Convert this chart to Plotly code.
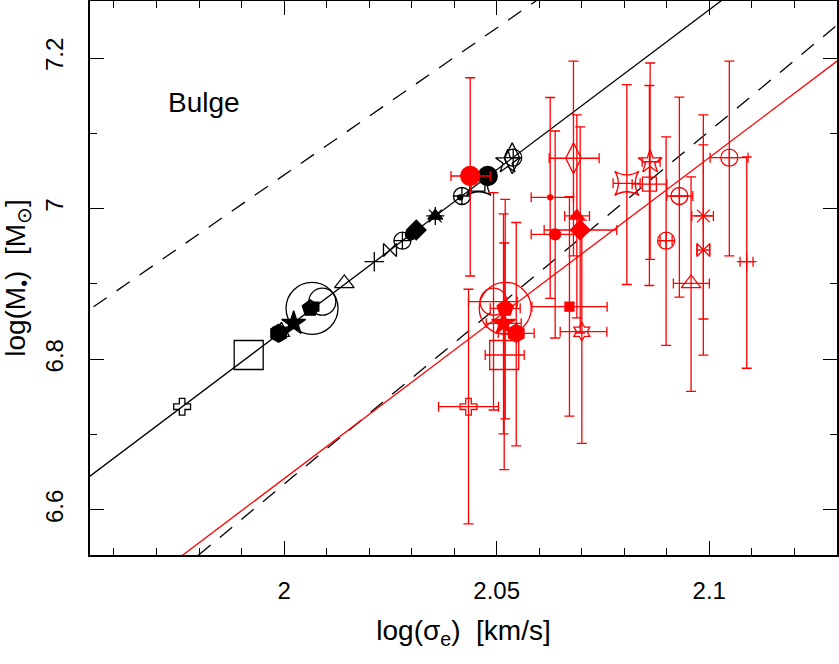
import plotly.graph_objects as go

# ---------------- data ----------------
# observed (red) points: log sigma_e and log M_BH with error bounds
log_sig = [2.04378, 2.04338, 2.04926, 2.05201, 2.05201, 2.05161, 2.05460, 2.05177,
           2.06259, 2.06376, 2.06712, 2.06806, 2.06886, 2.06964, 2.07003, 2.08061,
           2.08592, 2.08609, 2.08985, 2.09297, 2.09572, 2.09861, 2.09861, 2.10472, 2.10881]
log_sig_lo = [2.03925, 2.03633, 2.04338, 2.05201, 2.04848, 2.04754, 2.05036, 2.04731,
              2.05812, 2.05812, 2.05829, 2.06235, 2.06599, 2.06117, 2.06494, 2.07739,
              2.08186, 2.08421, 2.08844, 2.09001, 2.09156, 2.09589, 2.09713, 2.10019, 2.10724]
log_sig_hi = [2.04848, 2.05043, 2.05483, 2.05201, 2.05553, 2.05577, 2.05882, 2.05648,
              2.06806, 2.06940, 2.07598, 2.07410, 2.07182, 2.07826, 2.07591, 2.08374,
              2.09001, 2.08844, 2.09126, 2.09612, 2.10002, 2.10097, 2.10007, 2.10912, 2.11030]
log_m = [7.0434, 6.7371, 6.8765, 6.8677, 6.8677, 6.8478, 6.8345, 6.8057,
         7.0151, 6.9660, 6.8699, 7.0669, 6.9903, 6.9717, 6.8367, 7.0337,
         7.0327, 7.0623, 6.9575, 7.0168, 6.9007, 6.9903, 6.9451, 7.0677, 6.9296]
log_m_lo = [6.9106, 6.5814, 6.7327, 6.8677, 6.7208, 6.7011, 6.6852, 6.6535,
            6.8810, 6.8283, 6.7245, 6.9372, 6.8549, 6.8349, 6.6883, 6.8993,
            6.8980, 6.9328, 6.8184, 6.8825, 6.7574, 6.8535, 6.8055, 6.9372, 6.7881]
log_m_hi = [7.1738, 6.8930, 7.0212, 6.8677, 7.0124, 6.9932, 6.9816, 6.9544,
            7.1476, 7.1031, 7.0160, 7.1960, 7.1246, 7.1085, 6.9849, 7.1648,
            7.1635, 7.1934, 7.0953, 7.1480, 7.0422, 7.1246, 7.0848, 7.1960, 7.0686]
# same galaxies placed on the bulge relation (black points)
log_sig_rel = [2.04790, 1.97603, 2.00900, 2.00658, 2.00618, 2.00226, 1.99873, 1.99168,
               2.04143, 2.02982, 2.00712, 2.05365, 2.03556, 2.03109, 1.99937, 2.04580,
               2.04559, 2.05257, 2.02783, 2.04183, 2.01417, 2.03556, 2.02491, 2.05389, 2.02122]
symbols = ["circle", "cross-open", "circle-open", "circle-open", "pentagon", "star",
           "hexagon", "square-open", "circle", "circle", "square", "diamond-tall-open",
           "triangle-up", "diamond", "hexagram-open", "star-square-open", "square-open",
           "star-open", "circle-cross-open", "circle-cross-open", "triangle-up-open",
           "asterisk-open", "bowtie-open", "circle-cross-open", "cross-thin-open"]
sizes = [19, 14, 27, 52, 17, 18, 18, 29, 5, 11, 9, 22, 13, 15, 14, 22, 14, 18,
         17, 17, 17, 15, 13, 17, 14]

# relations: log M = zero_point + slope * (log sigma - 2)
rel_zero = [6.8390, 7.0446, 6.6343, 6.6416]
rel_slope = [4.251, 3.903, 4.686, 4.262]
rel_color = ["black", "black", "black", "red"]
rel_dash = ["solid", "16px,12px", "16px,12px", "solid"]

x_range = [1.95436, 2.13004]
y_range = [6.5402, 7.2757]
x_ticks = [2.0, 2.05, 2.1]
x_ticklabels = ["2", "2.05", "2.1"]
y_ticks = [6.6, 6.8, 7.0, 7.2]
y_ticklabels = ["6.6", "6.8", "7", "7.2"]

FONT = "Liberation Sans"

fig = go.Figure()

for z, s, c, d in zip(rel_zero, rel_slope, rel_color, rel_dash):
    xs = [x_range[0] - 0.01, x_range[1] + 0.01]
    ys = [z + s * (x - 2.0) for x in xs]
    fig.add_trace(go.Scatter(x=xs, y=ys, mode="lines",
                             line=dict(color=c, width=1.3, dash=d),
                             hoverinfo="skip", showlegend=False))

fig.add_trace(go.Scatter(
    x=log_sig_rel, y=log_m, mode="markers", showlegend=False,
    marker=dict(symbol=symbols, size=sizes, color="black", opacity=1,
                line=dict(color="black", width=1.3))))

fig.add_trace(go.Scatter(
    x=log_sig, y=log_m, mode="markers", showlegend=False,
    marker=dict(symbol=symbols, size=sizes, color="red", opacity=1,
                line=dict(color="red", width=1.3)),
    error_x=dict(type="data", symmetric=False,
                 array=[h - v for h, v in zip(log_sig_hi, log_sig)],
                 arrayminus=[v - l for v, l in zip(log_sig, log_sig_lo)],
                 color="red", thickness=1.3, width=5),
    error_y=dict(type="data", symmetric=False,
                 array=[h - v for h, v in zip(log_m_hi, log_m)],
                 arrayminus=[v - l for v, l in zip(log_m, log_m_lo)],
                 color="red", thickness=1.3, width=5)))

fig.add_annotation(x=1.98127, y=7.1403, xref="x", yref="y", text="Bulge",
                   showarrow=False, font=dict(family=FONT, size=28, color="black"))

axis_common = dict(showline=True, linecolor="black", linewidth=1.5, mirror="allticks",
                   ticks="inside", ticklen=14, tickwidth=1.2, tickcolor="black",
                   showgrid=False, zeroline=False,
                   tickfont=dict(family=FONT, size=24, color="black"))

fig.update_xaxes(range=x_range, tickvals=x_ticks, ticktext=x_ticklabels,
                 minor=dict(dtick=0.01, tick0=2.0, ticks="inside", ticklen=7,
                            tickwidth=1.2, tickcolor="black", showgrid=False),
                 ticklabelstandoff=13,
                 title=dict(text="log(σ<sub>e</sub>)  [km/s]",
                            font=dict(family=FONT, size=28, color="black"), standoff=18),
                 **axis_common)
fig.update_yaxes(range=y_range, tickvals=y_ticks, ticktext=y_ticklabels, tickangle=-90,
                 minor=dict(dtick=0.1, tick0=6.6, ticks="inside", ticklen=7,
                            tickwidth=1.2, tickcolor="black", showgrid=False),
                 ticklabelstandoff=16,
                 title=dict(text="log(M<sub>•</sub>)  [M<sub>⊙</sub>]",
                            font=dict(family=FONT, size=28, color="black"), standoff=9),
                 **axis_common)

fig.update_layout(width=839, height=664, plot_bgcolor="white", paper_bgcolor="white",
                  margin=dict(l=90, r=2, t=1, b=109, autoexpand=False),
                  showlegend=False)

fig.write_html("out.html", config={"displayModeBar": False},
               post_script="document.body.style.margin='0px';document.body.style.padding='0px';")
